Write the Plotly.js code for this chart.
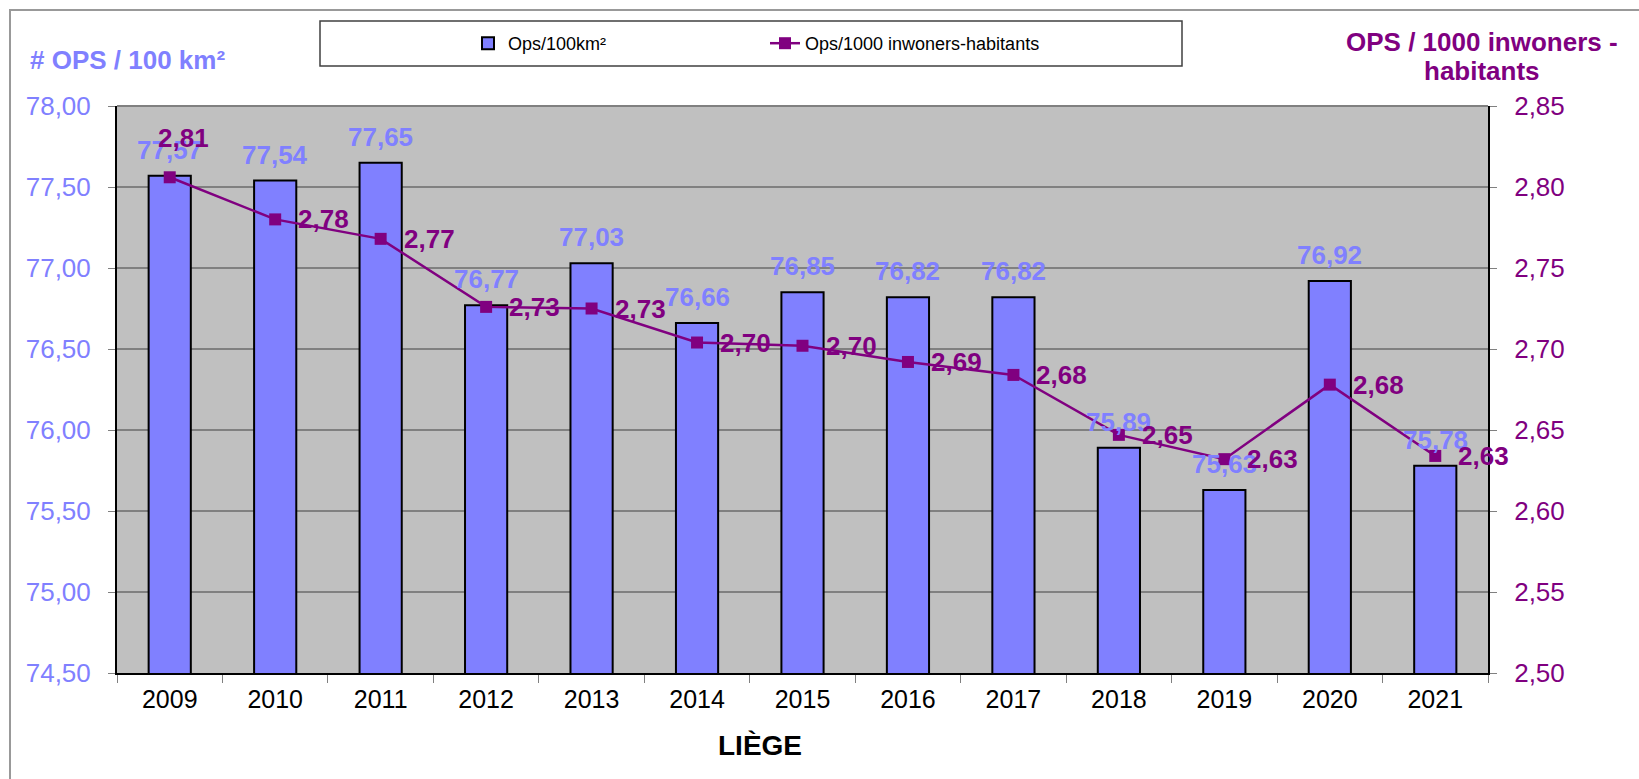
<!DOCTYPE html>
<html>
<head>
<meta charset="utf-8">
<script src="https://cdn.plot.ly/plotly-3.0.1.min.js"></script>
<style>
  html, body { margin: 0; padding: 0; background: #fff; }
  #chart { width: 1639px; height: 779px; }
</style>
</head>
<body>
<div id="chart"></div>
<script>
// ---- data ----
const years = ['2009', '2010', '2011', '2012', '2013', '2014', '2015', '2016', '2017', '2018', '2019', '2020', '2021'];
const opsPer100km2 = [77.57, 77.54, 77.65, 76.77, 77.03, 76.66, 76.85, 76.82, 76.82, 75.89, 75.63, 76.92, 75.78];
const opsPer1000 = [2.806, 2.780, 2.768, 2.726, 2.725, 2.704, 2.702, 2.692, 2.684, 2.647, 2.632, 2.678, 2.634];
const barName = 'Ops/100km²';
const lineName = 'Ops/1000 inwoners-habitants';
const leftTitle = '# OPS / 100 km²';
const rightTitleLines = ['OPS / 1000 inwoners -', 'habitants'];
const xTitle = 'LIÈGE';

// ---- geometry helpers (figure pixels -> paper) ----
const W = 1639, H = 779;
const M = { l: 117, r: 151, t: 106, b: 106 };
const pw = W - M.l - M.r, ph = H - M.t - M.b;
const px = x => (x - M.l) / pw;
const py = y => (H - M.b - y) / ph;

const fmt = v => v.toFixed(2).replace('.', ',');
const FONT = 'Liberation Sans, Arial, sans-serif';
const BLUE = '#8080FF', PURPLE = '#800080';

const traces = [
  {
    type: 'bar', x: years, y: opsPer100km2, name: barName, yaxis: 'y',
    marker: { color: BLUE, line: { color: '#000000', width: 2 } },
    hoverinfo: 'x+y'
  },
  {
    type: 'scatter', mode: 'lines+markers', x: years, y: opsPer1000, name: lineName, yaxis: 'y2',
    line: { color: PURPLE, width: 2.5 },
    marker: { symbol: 'square', size: 12, color: PURPLE }
  }
];

const annotations = [];
opsPer100km2.forEach((v, i) => {
  annotations.push({
    x: i, y: v, xref: 'x', yref: 'y', text: '<b>' + fmt(v) + '</b>', showarrow: false,
    yanchor: 'middle', yshift: 26, font: { family: FONT, size: 26, color: BLUE }
  });
});
opsPer1000.forEach((v, i) => {
  const first = i === 0;
  annotations.push({
    x: i, y: v, xref: 'x', yref: 'y2', text: '<b>' + fmt(v) + '</b>', showarrow: false,
    xanchor: first ? 'center' : 'left', yanchor: 'middle',
    xshift: first ? 14 : 21, yshift: first ? 39 : 0,
    font: { family: FONT, size: 26, color: PURPLE }
  });
});
annotations.push({
  xref: 'paper', yref: 'paper', x: px(28), y: py(60), xanchor: 'left', yanchor: 'middle',
  text: '<b>' + leftTitle + '</b>', showarrow: false, font: { family: FONT, size: 26, color: BLUE }
});
rightTitleLines.forEach((t, k) => {
  annotations.push({
    xref: 'paper', yref: 'paper', x: px(1482), y: py(k === 0 ? 42 : 71), xanchor: 'center', yanchor: 'middle',
    text: '<b>' + t + '</b>', showarrow: false, font: { family: FONT, size: 26, color: PURPLE }
  });
});
annotations.push({
  xref: 'paper', yref: 'paper', x: px(760), y: py(745), xanchor: 'center', yanchor: 'middle',
  text: '<b>' + xTitle + '</b>', showarrow: false, font: { family: FONT, size: 28, color: '#000000' }
});

const layout = {
  width: W, height: H,
  margin: M,
  paper_bgcolor: '#FFFFFF', plot_bgcolor: '#C0C0C0',
  font: { family: FONT, size: 26, color: '#000000' },
  separators: ',.',
  bargap: 0.6,
  showlegend: true,
  legend: {
    orientation: 'h', x: px(468), y: py(43.5), xanchor: 'left', yanchor: 'middle',
    bgcolor: 'rgba(0,0,0,0)', borderwidth: 0,
    entrywidth: 252, entrywidthmode: 'pixels',
    font: { family: FONT, size: 18, color: '#000000' }
  },
  xaxis: {
    type: 'category', range: [-0.5, years.length - 0.5], tickson: 'boundaries',
    ticks: 'outside', ticklen: 8, tickcolor: '#808080', tickangle: 0, ticklabelstandoff: 3,
    showline: true, linecolor: '#000000', linewidth: 2, showgrid: false,
    tickfont: { family: FONT, size: 25, color: '#000000' }
  },
  yaxis: {
    range: [74.5, 78], dtick: 0.5, tick0: 74.5, tickformat: '.2f',
    ticks: 'outside', ticklen: 7, tickcolor: '#808080', ticklabelstandoff: 12,
    showline: true, linecolor: '#000000', linewidth: 2,
    showgrid: true, gridcolor: '#808080', gridwidth: 1.5, zeroline: false,
    tickfont: { family: FONT, size: 26, color: BLUE }
  },
  yaxis2: {
    overlaying: 'y', side: 'right', range: [2.5, 2.85], dtick: 0.05, tick0: 2.5, tickformat: '.2f',
    ticks: 'outside', ticklen: 7, tickcolor: '#808080', ticklabelstandoff: 12,
    showline: true, linecolor: '#000000', linewidth: 2, showgrid: false, zeroline: false,
    tickfont: { family: FONT, size: 26, color: PURPLE }
  },
  shapes: [
    { type: 'rect', xref: 'paper', yref: 'paper', x0: px(10), x1: px(1700), y0: py(850), y1: py(10),
      line: { color: '#999999', width: 2 }, fillcolor: 'rgba(0,0,0,0)', layer: 'above' },
    { type: 'rect', xref: 'paper', yref: 'paper', x0: px(320), x1: px(1182), y0: py(66), y1: py(21),
      line: { color: '#404040', width: 1.5 }, fillcolor: '#FFFFFF', layer: 'above' },
    { type: 'line', xref: 'paper', yref: 'paper', x0: 0, x1: 1, y0: 1, y1: 1,
      line: { color: '#808080', width: 2 }, layer: 'above' }
  ],
  annotations: annotations
};

Plotly.newPlot('chart', traces, layout, { displayModeBar: false, staticPlot: true });
</script>
</body>
</html>
